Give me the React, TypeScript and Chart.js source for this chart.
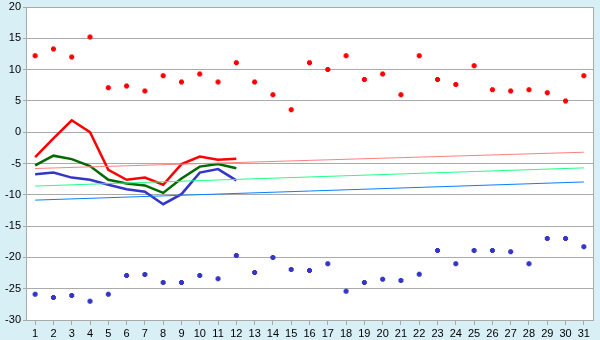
import React, { useEffect, useRef } from "react";
import { Chart, registerables } from "chart.js";

Chart.register(...registerables);

const days = Array.from({ length: 31 }, (_, i) => String(i + 1));

const recordHigh = [12.2, 13.3, 12.0, 15.2, 7.1, 7.4, 6.6, 9.0, 8.0, 9.3, 8.0, 11.1, 8.0, 6.0, 3.6, 11.1, 10.0, 12.2, 8.4, 9.3, 6.0, 12.2, 8.4, 7.6, 10.6, 6.8, 6.6, 6.8, 6.3, 5.0, 9.0];
const recordLow = [-25.9, -26.4, -26.1, -27.0, -25.9, -22.9, -22.75, -24.0, -24.0, -22.9, -23.4, -19.7, -22.4, -20.0, -21.95, -22.1, -21.0, -25.4, -24.0, -23.5, -23.7, -22.7, -18.9, -21.0, -18.9, -18.9, -19.1, -21.0, -17.0, -17.0, -18.3];

const maxTemp = [-4.0, -1.0, 1.9, 0.0, -6.0, -7.6, -7.25, -8.4, -5.1, -3.9, -4.4, -4.25];
const meanTemp = [-5.3, -3.75, -4.3, -5.4, -7.6, -8.2, -8.5, -9.7, -7.4, -5.5, -5.1, -5.75];
const minTemp = [-6.7, -6.45, -7.25, -7.6, -8.4, -9.1, -9.5, -11.5, -9.9, -6.45, -5.9, -7.7];

const normalMax = [-5.8, -3.2];
const normalMean = [-8.6, -5.7];
const normalMin = [-10.85, -7.95];

const yTicks = [20, 15, 10, 5, 0, -5, -10, -15, -20, -25, -30];

const GRID = "#aaaaaa";

const frame = {
  id: "frame",
  beforeDraw(chart: any) {
    const { ctx, chartArea } = chart;
    ctx.save();
    ctx.fillStyle = "#d9eff6";
    ctx.fillRect(0, 0, chart.width, chart.height);
    ctx.fillStyle = "#ffffff";
    ctx.fillRect(chartArea.left, chartArea.top, chartArea.right - chartArea.left, chartArea.bottom - chartArea.top);
    ctx.restore();
  },
  afterDraw(chart: any) {
    const { ctx, chartArea } = chart;
    ctx.save();
    ctx.strokeStyle = GRID;
    ctx.lineWidth = 1;
    ctx.beginPath();
    ctx.moveTo(Math.round(chartArea.right) + 0.5, chartArea.top);
    ctx.lineTo(Math.round(chartArea.right) + 0.5, chartArea.bottom);
    ctx.stroke();
    ctx.restore();
  },
};

const ends = (a: number[]) => [
  { x: days[0], y: a[0] },
  { x: days[days.length - 1], y: a[1] },
];

export default function App() {
  const ref = useRef<HTMLCanvasElement | null>(null);
  useEffect(() => {
    if (!ref.current) return;
    const pointDs = (data: number[], color: string) => ({
      type: "line" as const,
      data,
      showLine: false,
      pointStyle: "cross",
      pointRadius: 2.5,
      pointBorderWidth: 3,
      pointBorderColor: color,
      pointBackgroundColor: color,
      borderColor: color,
    });
    const lineDs = (data: any, color: string, w: number) => ({
      type: "line" as const,
      data,
      borderColor: color,
      borderWidth: w,
      pointRadius: 0,
      tension: 0,
      fill: false,
    });
    const chart = new Chart(ref.current, {
      type: "line",
      data: {
        labels: days,
        datasets: [
          lineDs(ends(normalMax), "#ff8080", 1),
          lineDs(ends(normalMean), "#22ff88", 1),
          lineDs(ends(normalMin), "#0a80ff", 1),
          lineDs(maxTemp, "#ff0000", 2.5),
          lineDs(meanTemp, "#006a00", 2.5),
          lineDs(minTemp, "#3535c8", 2.5),
          pointDs(recordHigh, "#ff0000"),
          pointDs(recordLow, "#3535c8"),
        ] as any,
      },
      options: {
        responsive: false,
        animation: false,
        layout: { padding: { top: 5, right: 5, left: 0, bottom: 0 } },
        plugins: { legend: { display: false }, tooltip: { enabled: false } },
        scales: {
          x: {
            type: "category",
            offset: true,
            afterFit: (s: any) => { s.height = 20; s.paddingLeft = 0; s.paddingRight = 0; },
            grid: { offset: false, drawOnChartArea: false, drawTicks: true, tickLength: 5, color: GRID },
            border: { color: GRID },
            ticks: { color: "#000", font: { family: "Liberation Sans", size: 11 }, padding: 2, maxRotation: 0, autoSkip: false },
          },
          y: {
            min: -30,
            max: 20,
            afterFit: (s: any) => { s.width = 26; s.paddingTop = 0; s.paddingBottom = 0; },
            afterBuildTicks: (s: any) => { s.ticks = yTicks.map((v) => ({ value: v })); },
            grid: { color: GRID, tickLength: 3 },
            border: { color: GRID },
            ticks: { color: "#000", font: { family: "Liberation Sans", size: 11 }, padding: 2 },
          },
        },
      } as any,
      plugins: [frame],
    });
    return () => chart.destroy();
  }, []);
  return (
    <div style={{ position: "fixed", left: 0, top: 0, width: 600, height: 340, background: "#d9eff6" }}>
      <canvas ref={ref} width={600} height={340} style={{ display: "block", width: 600, height: 340 }} />
    </div>
  );
}
